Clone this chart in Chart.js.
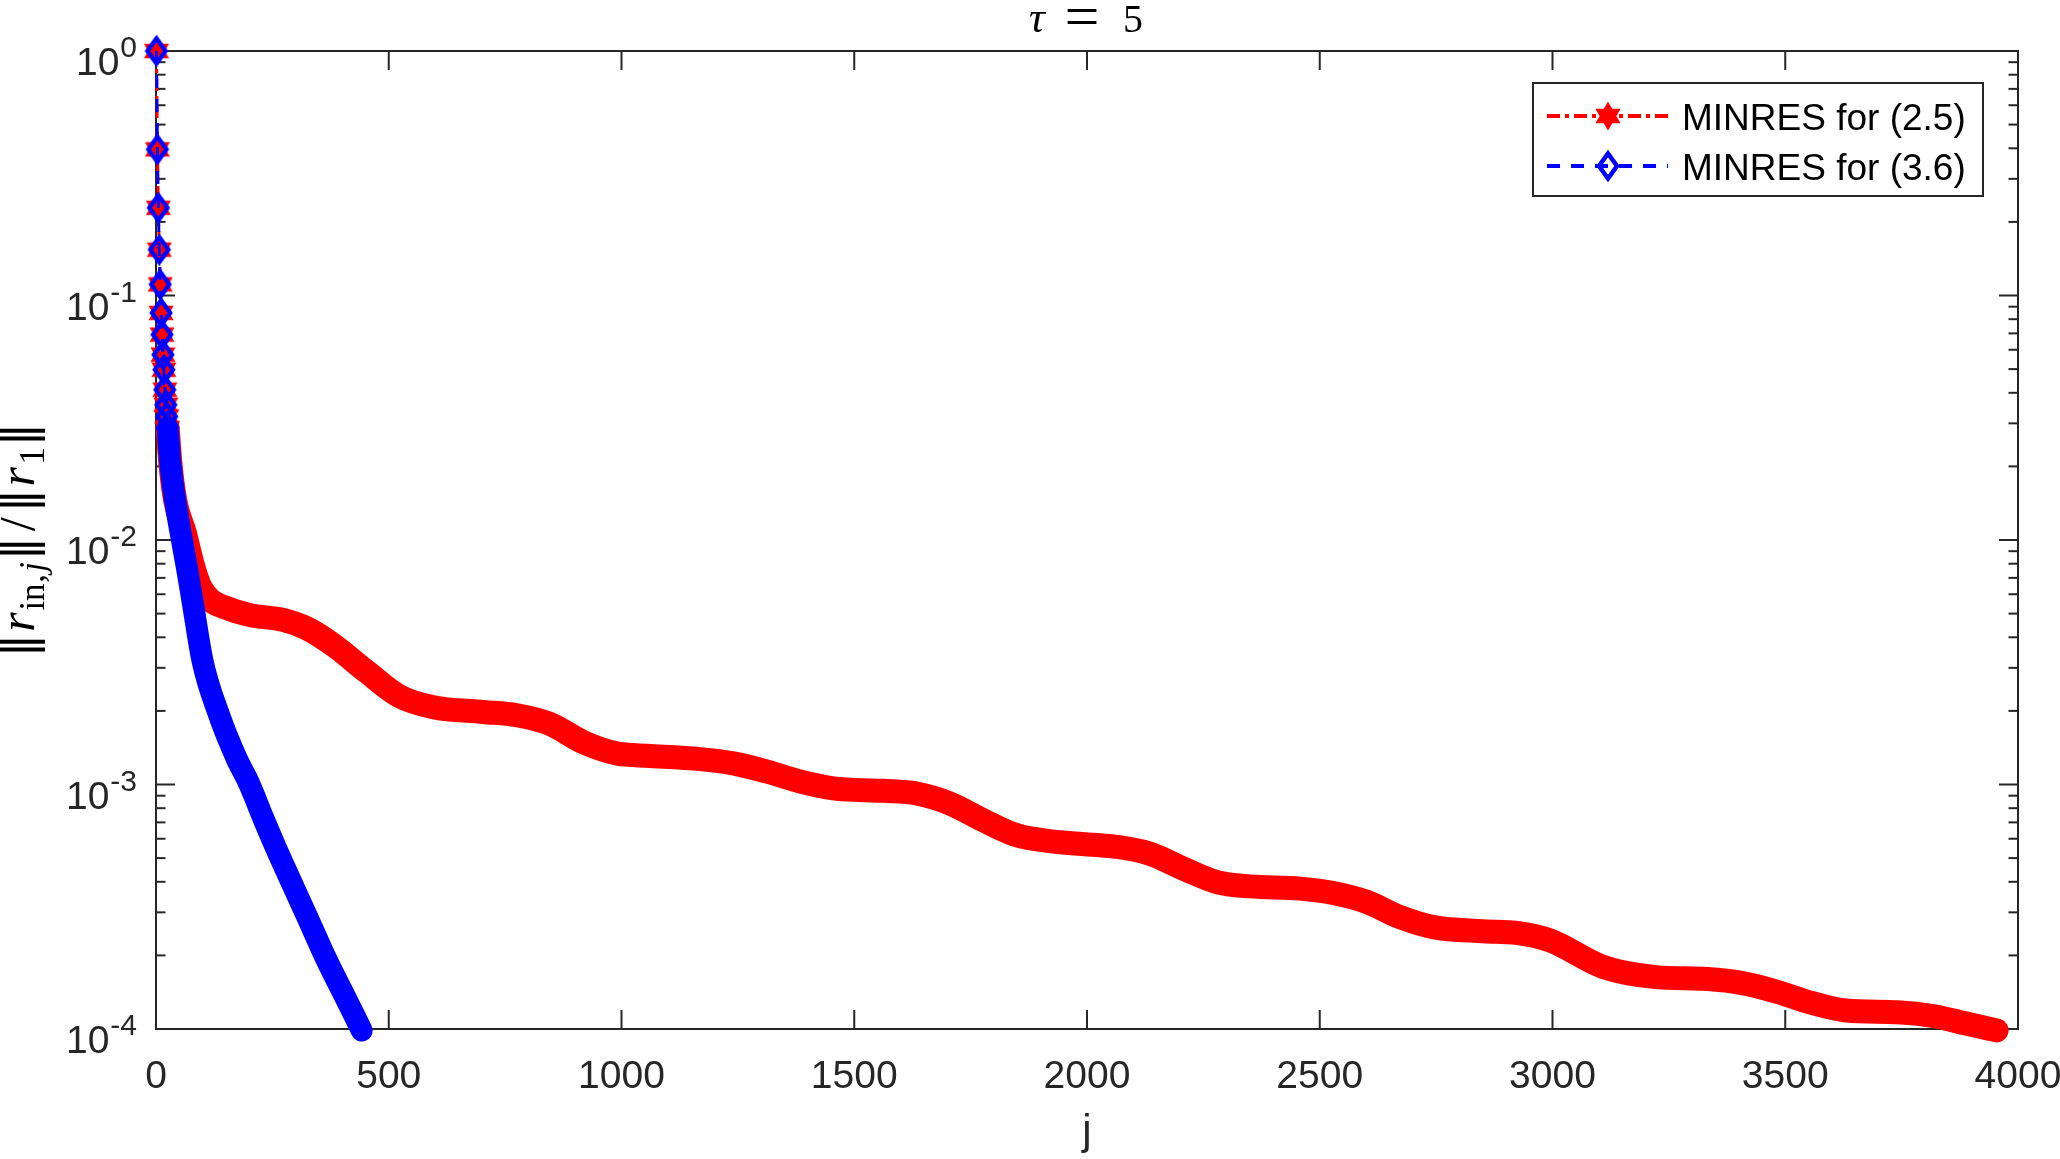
<!DOCTYPE html>
<html>
<head>
<meta charset="utf-8">
<title>MINRES relative residuals, tau = 5</title>
<script src="https://cdn.jsdelivr.net/npm/chart.js@4.4.1/dist/chart.umd.min.js"></script>
<style>
    html, body { margin: 0; padding: 0; background: #fff; }
    #wrap { width: 2060px; height: 1159px; }
</style>
</head>
<body>
<div id="wrap"><canvas id="myChart"></canvas></div>
<script>
// first iterations, where single markers can still be told apart
const headIter = [1, 3, 5, 7, 9, 11, 13, 15, 17, 19, 21, 23, 25];
const headRed = [1, 0.396, 0.2285, 0.154, 0.111, 0.0849, 0.0692, 0.0573, 0.0497, 0.0412, 0.0357, 0.0320, 0.0287];
const headBlue = [1, 0.396, 0.2285, 0.154, 0.111, 0.0849, 0.0692, 0.0573, 0.0497, 0.0412, 0.0357, 0.0320, 0.0287];

// MINRES for (2.5) - the long red curve
const redIter = [25, 31, 41, 62, 80, 95, 116, 145, 202, 273,
    324, 381, 453, 524, 596, 703, 775, 846, 918, 990,
    1025, 1169, 1240, 1312, 1383, 1455, 1562, 1634, 1706, 1777,
    1849, 1920, 2028, 2063, 2135, 2207, 2279, 2350, 2458, 2529,
    2601, 2672, 2744, 2851, 2923, 2995, 3110, 3222, 3333, 3408,
    3482, 3556, 3631, 3742, 3817, 3891, 3954];
const redRes = [0.0287, 0.0205, 0.0146, 0.01066, 0.00778, 0.00644, 0.00569, 0.00533, 0.00493, 0.00471,
    0.00435, 0.00372, 0.00289, 0.00229, 0.00207, 0.00198, 0.00192, 0.00177, 0.00149, 0.00134,
    0.00132, 0.00127, 0.00122, 0.00113, 0.00103, 0.000964, 0.000942, 0.000919, 0.000836, 0.000714,
    0.000620, 0.000587, 0.000564, 0.000556, 0.000521, 0.000453, 0.000399, 0.000383, 0.000375, 0.000360,
    0.000331, 0.000287, 0.000261, 0.000251, 0.000247, 0.000230, 0.000179, 0.000163, 0.000160, 0.000154,
    0.000142, 0.000128, 0.000119, 0.000117, 0.000113, 0.000105, 0.0000987];

// MINRES for (3.6) - the short blue curve
const blueIter = [25, 31, 41, 53, 66, 78, 100, 137, 173, 201, 229, 256, 288, 324, 367, 410, 442];
const blueRes = [0.0287, 0.0205, 0.0146, 0.01066, 0.00778, 0.00569, 0.0032, 0.00189, 0.00128, 0.00100,
    0.00074, 0.00056, 0.00041, 0.00029, 0.000191, 0.000131, 0.0000986];

const xTicks = [0, 500, 1000, 1500, 2000, 2500, 3000, 3500, 4000];
const yTicks = [1e-4, 1e-3, 1e-2, 1e-1, 1];
const yTickExp = ['-4', '-3', '-2', '-1', '0'];
const seriesNames = ['MINRES for (2.5)', 'MINRES for (3.6)'];

const AXIS_COLOR = '#262626';
const redDash = [13, 5, 4, 5];
const blueDash = [13, 11];

function toPoints(xs, ys) {
    return xs.map((v, i) => ({ x: v, y: ys[i] }));
}

// filled six point star like the matlab 'h' marker
function hexagram(color) {
    const c = document.createElement('canvas');
    c.width = 30; c.height = 30;
    const g = c.getContext('2d');
    const R = 13, r = R / Math.sqrt(3);
    g.beginPath();
    for (let k = 0; k < 12; k++) {
        const ang = -Math.PI / 2 + k * Math.PI / 6;
        const rad = k % 2 ? r : R;
        const px = 15 + rad * Math.cos(ang), py = 15 + rad * Math.sin(ang);
        if (k === 0) g.moveTo(px, py); else g.lineTo(px, py);
    }
    g.closePath();
    g.fillStyle = color; g.fill();
    g.strokeStyle = color; g.lineWidth = 1.5; g.stroke();
    return c;
}

// open diamond like the matlab 'd' marker
function diamond(color) {
    const c = document.createElement('canvas');
    c.width = 26; c.height = 32;
    const g = c.getContext('2d');
    g.beginPath();
    g.moveTo(13, 3.5); g.lineTo(22, 16); g.lineTo(13, 28.5); g.lineTo(4, 16);
    g.closePath();
    g.strokeStyle = color; g.lineWidth = 4.5; g.lineJoin = 'miter'; g.stroke();
    return c;
}

const redMarker = hexagram('#ff0000');
const blueMarker = diamond('#0000ff');

// draw text pieces side by side, each in its own font, centred on cx
function drawRuns(ctx, runs, cx, baseY) {
    let total = 0;
    runs.forEach(r => {
        ctx.font = r.font;
        r.gw = ctx.measureText(r.t).width;
        r.w = Math.max(r.gw, r.slot || 0);
        total += r.w;
    });
    let x = cx - total / 2;
    runs.forEach(r => {
        ctx.font = r.font;
        ctx.fillText(r.t, x + (r.w - r.gw) / 2, baseY + (r.dy || 0));
        x += r.w;
    });
}

const axesPlugin = {
    id: 'matlabAxes',
    beforeDatasetsDraw(chart) {
        const { ctx, chartArea: a, scales: { x, y } } = chart;
        ctx.save();
        ctx.strokeStyle = AXIS_COLOR;
        ctx.lineWidth = 2;
        ctx.strokeRect(a.left, a.top, a.right - a.left, a.bottom - a.top);

        function seg(x1, y1, x2, y2) {
            ctx.beginPath(); ctx.moveTo(x1, y1); ctx.lineTo(x2, y2); ctx.stroke();
        }
        xTicks.forEach(v => {
            const px = x.getPixelForValue(v);
            seg(px, a.bottom, px, a.bottom - 19);
            seg(px, a.top, px, a.top + 19);
        });
        yTicks.forEach((v, i) => {
            const py = y.getPixelForValue(v);
            seg(a.left, py, a.left + 19, py);
            seg(a.right, py, a.right - 19, py);
            if (i < yTicks.length - 1) {
                for (let m = 2; m <= 9; m++) {
                    const pm = y.getPixelForValue(v * m);
                    seg(a.left, pm, a.left + 9.5, pm);
                    seg(a.right, pm, a.right - 9.5, pm);
                }
            }
        });

        // tick labels
        ctx.fillStyle = AXIS_COLOR;
        ctx.textBaseline = 'alphabetic';
        ctx.textAlign = 'center';
        ctx.font = '39px "Liberation Sans", Arial, sans-serif';
        xTicks.forEach(v => {
            ctx.fillText(String(v), x.getPixelForValue(v), a.bottom + 59);
        });
        yTicks.forEach((v, i) => {
            const py = y.getPixelForValue(v);
            ctx.textAlign = 'right';
            ctx.font = '30px "Liberation Sans", Arial, sans-serif';
            ctx.fillText(yTickExp[i], a.left - 19, py + 6);
            const ew = ctx.measureText(yTickExp[i]).width;
            ctx.font = '39px "Liberation Sans", Arial, sans-serif';
            ctx.fillText('10', a.left - 20 - ew, py + 24);
        });

        // x label
        ctx.textAlign = 'center';
        ctx.font = '42px "Liberation Sans", Arial, sans-serif';
        ctx.fillText('j', (a.left + a.right) / 2, 1144);

        // title tau = 5
        ctx.fillStyle = '#000';
        ctx.textAlign = 'left';
        ctx.font = 'italic 44px "Liberation Serif", "DejaVu Serif", serif';
        ctx.fillText('τ', 1029, 32);
        ctx.textAlign = 'center';
        ctx.font = '62px "Liberation Serif", serif';
        ctx.fillText('=', 1082, 37);
        ctx.textAlign = 'left';
        ctx.font = '40px "Liberation Serif", serif';
        ctx.fillText('5', 1123, 32);

        // y label, rotated
        ctx.save();
        ctx.translate(34, (a.top + a.bottom) / 2);
        ctx.rotate(-Math.PI / 2);
        ctx.textAlign = 'left';
        const bar = '48px "DejaVu Sans", sans-serif';
        const big = '50px "Liberation Serif", "DejaVu Serif", serif';
        const bigIt = 'italic 50px "Liberation Serif", "DejaVu Serif", serif';
        const sub = '35px "Liberation Serif", "DejaVu Serif", serif';
        const subIt = 'italic 35px "Liberation Serif", "DejaVu Serif", serif';
        drawRuns(ctx, [
            { t: '‖', font: bar, slot: 24 },
            { t: 'r', font: bigIt, slot: 23 },
            { t: 'in', font: sub, dy: 10 },
            { t: ',', font: sub, dy: 10, slot: 10 },
            { t: 'j', font: subIt, dy: 10, slot: 13 },
            { t: '‖', font: bar, slot: 24 },
            { t: '/', font: big, slot: 24 },
            { t: '‖', font: bar, slot: 24 },
            { t: 'r', font: bigIt, slot: 23 },
            { t: '1', font: sub, dy: 10, slot: 19 },
            { t: '‖', font: bar, slot: 24 }
        ], 0, 0);
        ctx.restore();
        ctx.restore();
    },
    afterDraw(chart) {
        const ctx = chart.ctx;
        ctx.save();
        // legend box
        ctx.fillStyle = '#fff';
        ctx.fillRect(1533, 83, 450, 113);
        ctx.strokeStyle = AXIS_COLOR;
        ctx.lineWidth = 2;
        ctx.strokeRect(1533, 83, 450, 113);

        const rows = [
            { y: 116, base: 130, color: '#ff0000', dash: redDash, marker: redMarker },
            { y: 166, base: 180, color: '#0000ff', dash: blueDash, marker: blueMarker }
        ];
        rows.forEach((r, i) => {
            ctx.strokeStyle = r.color;
            ctx.lineWidth = 4;
            ctx.setLineDash(r.dash);
            ctx.beginPath();
            ctx.moveTo(1547, r.y); ctx.lineTo(1668, r.y);
            ctx.stroke();
            ctx.setLineDash([]);
            ctx.drawImage(r.marker, 1608 - r.marker.width / 2, r.y - r.marker.height / 2);
            ctx.fillStyle = '#000';
            ctx.font = '37px "Liberation Sans", Arial, sans-serif';
            ctx.textAlign = 'left';
            ctx.textBaseline = 'alphabetic';
            ctx.fillText(seriesNames[i], 1682, r.base);
        });
        ctx.restore();
    }
};

const ctx = document.getElementById('myChart').getContext('2d');

new Chart(ctx, {
    type: 'line',
    data: {
        datasets: [
            {
                label: seriesNames[1],
                data: toPoints(headIter, headBlue),
                borderColor: '#0000ff',
                borderWidth: 3,
                borderDash: blueDash,
                pointStyle: blueMarker,
                pointRadius: 12,
                tension: 0,
                clip: false
            },
            {
                label: seriesNames[1] + ' band',
                data: toPoints(blueIter, blueRes),
                borderColor: '#0000ff',
                borderWidth: 22,
                borderCapStyle: 'round',
                borderJoinStyle: 'round',
                pointRadius: 0,
                cubicInterpolationMode: 'monotone',
                clip: false
            },
            {
                label: seriesNames[0],
                data: toPoints(headIter, headRed),
                borderColor: '#ff0000',
                borderWidth: 3,
                borderDash: redDash,
                pointStyle: redMarker,
                pointRadius: 12,
                tension: 0,
                clip: false
            },
            {
                label: seriesNames[0] + ' band',
                data: toPoints(redIter, redRes),
                borderColor: '#ff0000',
                borderWidth: 24,
                borderCapStyle: 'round',
                borderJoinStyle: 'round',
                pointRadius: 0,
                cubicInterpolationMode: 'monotone',
                clip: false
            }
        ]
    },
    options: {
        responsive: true,
        maintainAspectRatio: false,
        animation: false,
        events: [],
        layout: { padding: { left: 156, right: 42, top: 51, bottom: 130 } },
        scales: {
            x: { type: 'linear', min: 0, max: 4000, display: false },
            y: { type: 'logarithmic', min: 1e-4, max: 1, display: false }
        },
        plugins: {
            legend: { display: false },
            tooltip: { enabled: false }
        }
    },
    plugins: [axesPlugin]
});
</script>
</body>
</html>
